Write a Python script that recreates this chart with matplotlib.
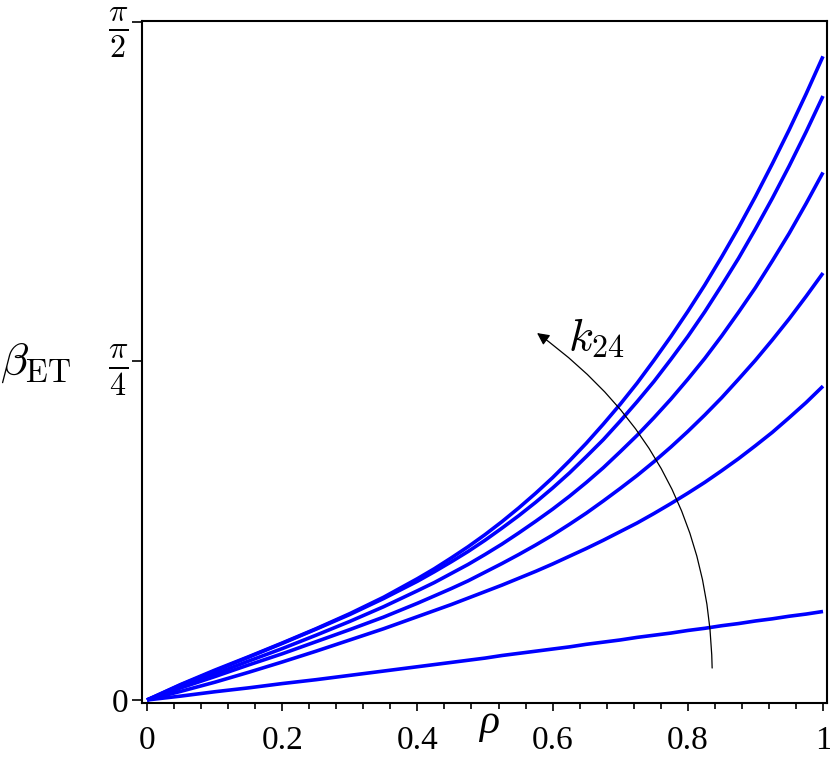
import numpy as np
import matplotlib
matplotlib.use("Agg")
import matplotlib.pyplot as plt
from matplotlib.ticker import FixedLocator, MultipleLocator

plt.rcParams['mathtext.fontset'] = 'cm'

rho = [0.0, 0.05, 0.1, 0.15, 0.2, 0.25, 0.3, 0.35, 0.4, 0.425, 0.45, 0.475,
       0.5, 0.525, 0.55, 0.575, 0.6, 0.625, 0.65, 0.675, 0.7, 0.725, 0.75,
       0.775, 0.8, 0.825, 0.85, 0.875, 0.9, 0.925, 0.95, 0.975, 1.0]

beta_1 = [0.000, 0.036, 0.069, 0.100, 0.132, 0.165, 0.200, 0.238, 0.281, 0.304, 0.329, 0.355,
          0.383, 0.413, 0.445, 0.479, 0.515, 0.554, 0.595, 0.639, 0.685, 0.734, 0.787,
          0.842, 0.900, 0.961, 1.026, 1.094, 1.166, 1.242, 1.321, 1.404, 1.491]
beta_2 = [0.000, 0.035, 0.067, 0.099, 0.131, 0.164, 0.198, 0.235, 0.275, 0.297, 0.320, 0.344,
          0.370, 0.398, 0.427, 0.458, 0.491, 0.526, 0.564, 0.603, 0.646, 0.691, 0.738,
          0.789, 0.842, 0.899, 0.960, 1.023, 1.091, 1.162, 1.237, 1.316, 1.399]
beta_3 = [0.000, 0.030, 0.060, 0.090, 0.119, 0.150, 0.182, 0.216, 0.253, 0.272, 0.293, 0.314,
          0.337, 0.361, 0.387, 0.414, 0.442, 0.472, 0.504, 0.538, 0.575, 0.613, 0.654,
          0.697, 0.743, 0.791, 0.843, 0.898, 0.955, 1.017, 1.081, 1.150, 1.222]
beta_4 = [0.000, 0.028, 0.054, 0.081, 0.107, 0.135, 0.163, 0.192, 0.224, 0.241, 0.258, 0.276,
          0.296, 0.316, 0.337, 0.359, 0.382, 0.407, 0.433, 0.461, 0.490, 0.520, 0.552,
          0.586, 0.622, 0.660, 0.700, 0.743, 0.787, 0.834, 0.883, 0.935, 0.989]
beta_5 = [0.000, 0.020, 0.041, 0.064, 0.088, 0.113, 0.139, 0.165, 0.193, 0.207, 0.221, 0.236,
          0.251, 0.266, 0.282, 0.298, 0.315, 0.333, 0.351, 0.370, 0.390, 0.410, 0.432,
          0.455, 0.479, 0.504, 0.531, 0.559, 0.589, 0.620, 0.654, 0.689, 0.727]
beta_6 = [0.000, 0.009, 0.019, 0.028, 0.038, 0.047, 0.057, 0.067, 0.077, 0.082, 0.087, 0.092,
          0.097, 0.103, 0.108, 0.113, 0.118, 0.123, 0.129, 0.134, 0.139, 0.145, 0.150,
          0.155, 0.161, 0.166, 0.172, 0.177, 0.183, 0.188, 0.194, 0.199, 0.205]

series = [beta_1, beta_2, beta_3, beta_4, beta_5, beta_6]

xticks = [0, 0.2, 0.4, 0.6, 0.8, 1]
xticklabels = ["0", "0.2", "0.4", "0.6", "0.8", "1"]
yticks = [0, np.pi / 4, np.pi / 2]
yticklabels = ["0", r"$\frac{\pi}{4}\;$", r"$\frac{\pi}{2}\;$"]

fig = plt.figure(figsize=(8.30, 7.61), dpi=100)
ax = fig.add_axes([142 / 830, 58 / 761, 685 / 830, 682 / 761])

for b in series:
    ax.plot(rho, b, color=(0, 0, 1), lw=2.6, solid_capstyle='butt',
            solid_joinstyle='round')

ax.set_xlim(-0.0074, 1.0059)
ax.set_ylim(-0.007, np.pi / 2 + 0.002)

ax.xaxis.set_major_locator(FixedLocator(xticks))
ax.set_xticklabels(xticklabels, fontfamily='Liberation Serif', fontsize=24)
ax.xaxis.set_minor_locator(MultipleLocator(0.04))
ax.yaxis.set_major_locator(FixedLocator(yticks))
ylabs = ax.set_yticklabels(yticklabels, fontfamily='Liberation Serif', fontsize=24)
for lab in ylabs[1:]:
    lab.set_fontsize(33)

ax.tick_params(axis='x', which='major', direction='out', length=6, width=1.2, pad=10)
ax.tick_params(axis='x', which='minor', direction='out', length=4, width=1.2)
ax.tick_params(axis='y', which='major', direction='out', length=7, width=1.2, pad=3)
ax.tick_params(top=False, right=False)

for s in ax.spines.values():
    s.set_linewidth(1.5)

# axis labels
ax.text(0.507, 0.0, "ρ", transform=ax.transAxes, ha='center', va='top',
        fontfamily='Liberation Serif', fontstyle='italic', fontsize=30)
fig.text(0.0, 1 - 362 / 761, r"$\beta_{\mathrm{ET}}$", ha='left', va='center', fontsize=33)

# k24 annotation arrow
ax.annotate("", xy=(0.577, 0.85), xytext=(0.836, 0.074),
            arrowprops=dict(arrowstyle='-|>', color='black', lw=0.9,
                            connectionstyle='arc3,rad=0.25',
                            mutation_scale=18, shrinkA=0, shrinkB=0))
ax.text(0.623, 0.81, r"$k_{24}$", fontsize=33, ha='left', va='baseline')

fig.savefig("out.png", dpi=100)
